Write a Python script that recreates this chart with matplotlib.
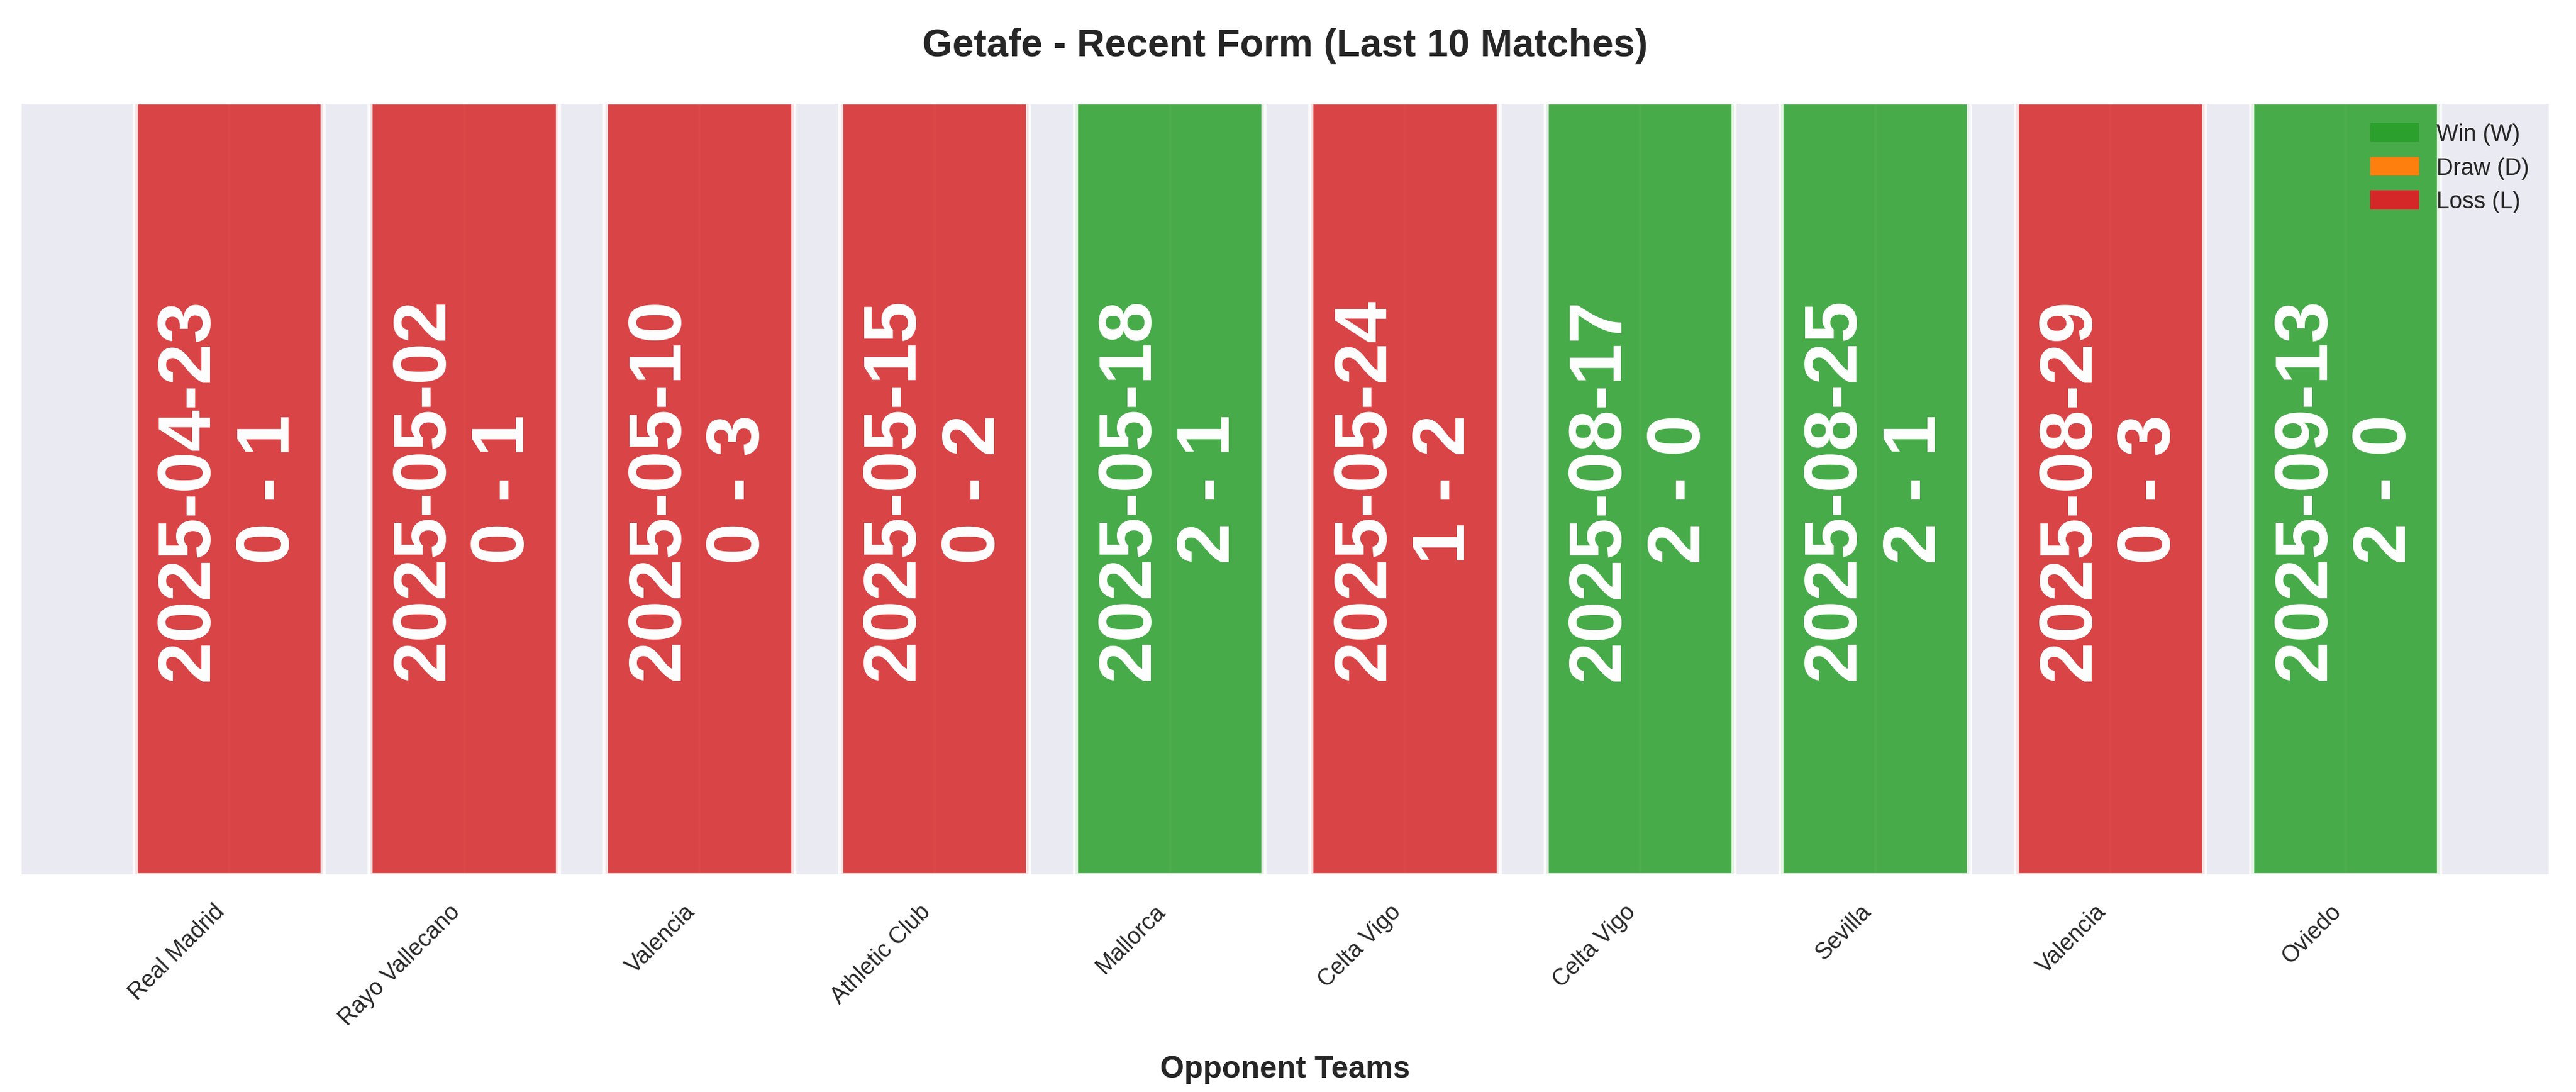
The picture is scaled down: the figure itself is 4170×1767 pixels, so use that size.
import matplotlib
matplotlib.use("Agg")
import matplotlib.pyplot as plt
import seaborn as sns
from matplotlib.patches import Patch

sns.set_theme(style="darkgrid")
plt.rcParams['font.family'] = ['Liberation Sans', 'DejaVu Sans']

opponents = ["Real Madrid", "Rayo Vallecano", "Valencia", "Athletic Club", "Mallorca",
             "Celta Vigo", "Celta Vigo", "Sevilla", "Valencia", "Oviedo"]
dates = ["2025-04-23", "2025-05-02", "2025-05-10", "2025-05-15", "2025-05-18",
         "2025-05-24", "2025-08-17", "2025-08-25", "2025-08-29", "2025-09-13"]
scores = ["0 - 1", "0 - 1", "0 - 3", "0 - 2", "2 - 1", "1 - 2", "2 - 0", "2 - 1", "0 - 3", "2 - 0"]
results = ["L", "L", "L", "L", "W", "L", "W", "W", "L", "W"]
colors = {"W": "#2ca02c", "D": "#ff7f0e", "L": "#d62728"}

fig, ax = plt.subplots(figsize=(13.9, 5.893), dpi=300)
fig.subplots_adjust(left=0.0077, right=0.99, top=0.906, bottom=0.198)
x = list(range(len(opponents)))
ax.bar(x, [1] * len(x), width=0.8, color=[colors[r] for r in results],
       alpha=0.85, edgecolor="white", linewidth=2)
for i in x:
    ax.text(i, 0.5, f"{dates[i]}\n{scores[i]}", rotation=90, ha="center", va="center",
            color="white", fontsize=29, fontweight="bold")
ax.set_xticks(x)
ax.set_xticklabels(opponents, rotation=45, ha="right", fontsize=9)
ax.set_yticks([])
ax.set_ylim(0, 1)
ax.set_xlim(-0.89, 9.87)
ax.set_xlabel("Opponent Teams", fontsize=12, fontweight="bold", labelpad=10)
ax.set_title("Getafe - Recent Form (Last 10 Matches)", fontsize=15, fontweight="bold", pad=18)
handles = [Patch(color=colors["W"], label="Win (W)"),
           Patch(color=colors["D"], label="Draw (D)"),
           Patch(color=colors["L"], label="Loss (L)")]
ax.legend(handles=handles, loc="upper right", fontsize=9, frameon=False)
fig.savefig("out.png", dpi=300)
